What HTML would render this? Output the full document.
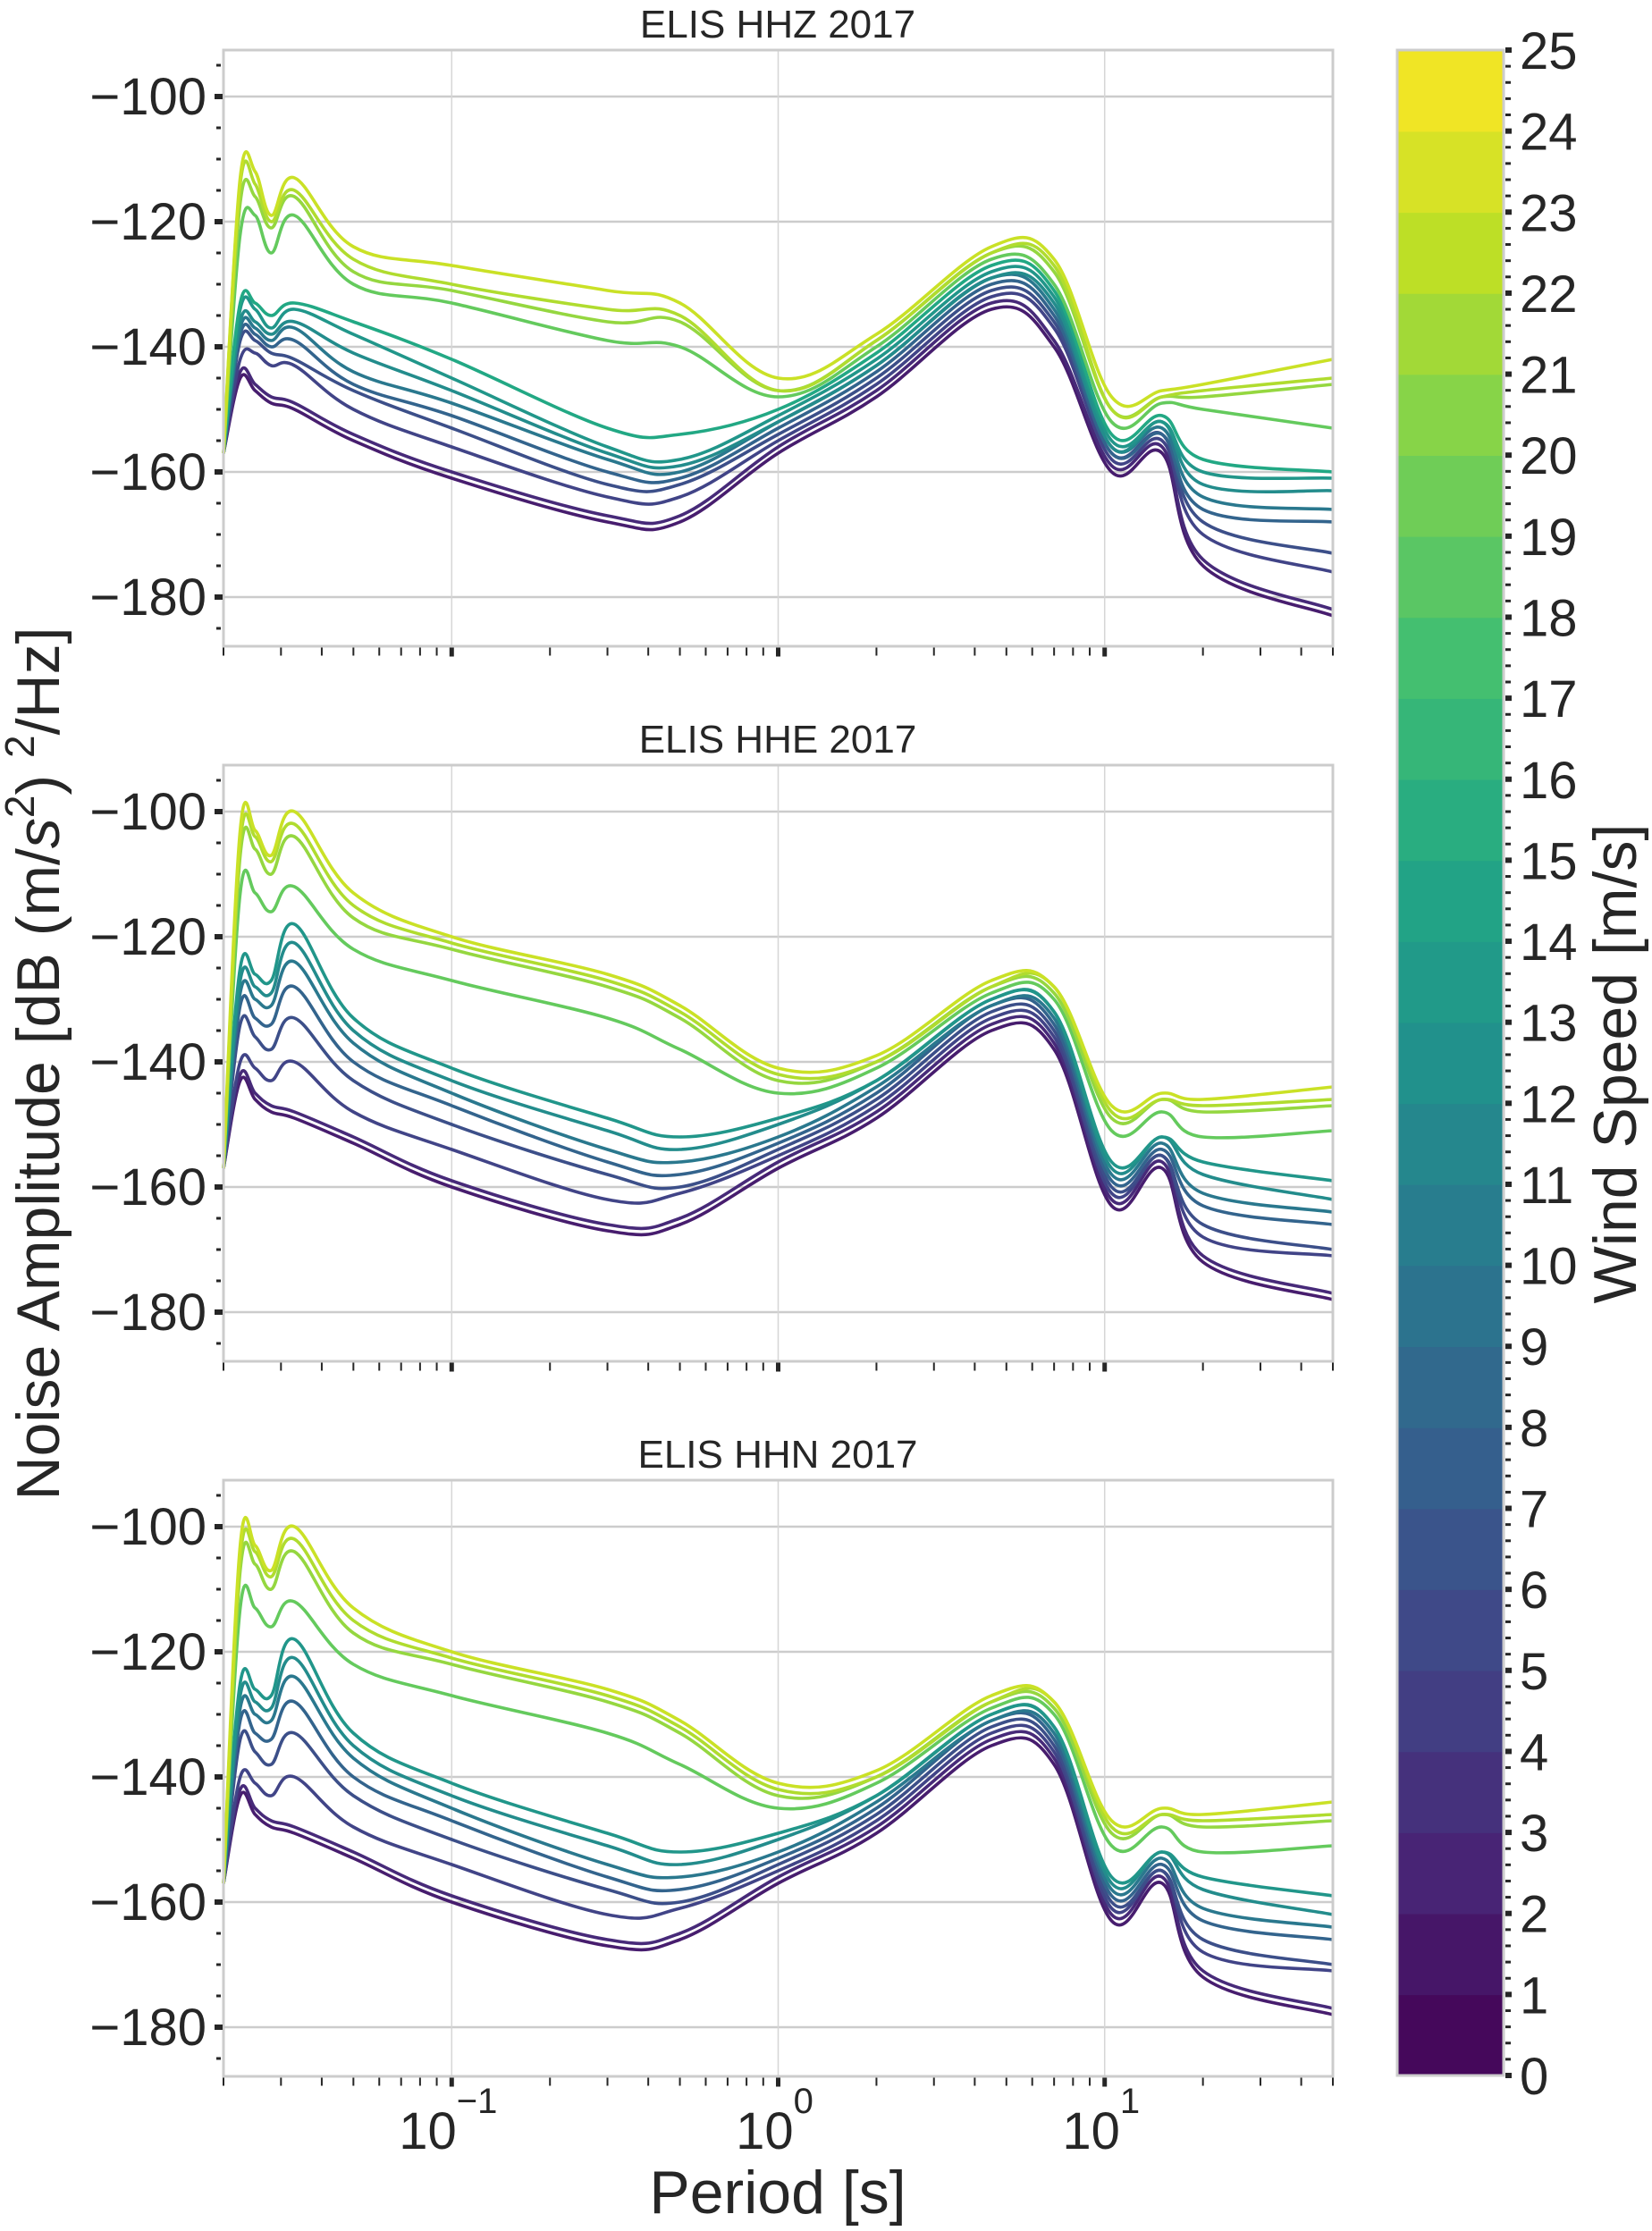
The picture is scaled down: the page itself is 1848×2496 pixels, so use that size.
<!DOCTYPE html>
<html><head><meta charset="utf-8"><style>
html,body{margin:0;padding:0;background:#fff}
svg{display:block;font-family:"Liberation Sans",Arial,sans-serif}
</style></head><body>
<svg id="chart" width="1848" height="2496" viewBox="0 0 1848 2496" xmlns="http://www.w3.org/2000/svg"></svg>
<script>
const periods=[0.02,0.0225,0.025,0.028,0.033,0.05,0.1,0.3,0.5,1,2,4.5,7,10.5,15,20,50];
const panelTitles=["ELIS HHZ 2017","ELIS HHE 2017","ELIS HHN 2017"];
const hhzWinds=[2,3,5,6,8,10,12,13,15,19,21,22,23];
const hhzValues=[
[-157,-145,-147,-149,-150,-155,-161,-168,-168,-157,-148,-134,-140,-160,-157,-175,-183],
[-157,-144,-146,-148,-149,-154,-160,-167,-167,-156,-147,-133,-139,-159,-156,-174,-182],
[-157,-142,-141,-143,-143,-150,-156,-164,-164,-155,-146,-132,-137,-158,-155,-170,-176],
[-157,-139,-139,-141,-142,-147,-153,-162,-162,-154,-145,-131,-136,-157,-154,-168,-173],
[-157,-138,-138,-140,-139,-146,-151,-160,-161,-153,-144,-130,-135,-157,-154,-166,-168],
[-157,-137,-137,-139,-137,-144,-149,-158,-160,-152,-143,-129,-134,-156,-153,-164,-166],
[-157,-136,-136,-138,-136,-141,-147,-157,-159,-152,-143,-129,-133,-156,-152,-162,-163],
[-157,-134,-134,-137,-134,-138,-145,-156,-158,-151,-142,-128,-132,-155,-152,-160,-161],
[-157,-133,-133,-135,-133,-136,-142,-153,-154,-150,-141,-127,-131,-154,-151,-158,-160],
[-157,-122,-119,-125,-119,-130,-133,-139,-140,-148,-140,-126,-130,-152,-149,-150,-153],
[-157,-117,-116,-121,-116,-128,-131,-136,-136,-147,-139,-125,-128,-150,-148,-148,-146],
[-157,-114,-114,-120,-115,-126,-130,-134,-135,-147,-139,-125,-127,-150,-148,-147,-145],
[-157,-113,-112,-119,-113,-124,-127,-131,-133,-145,-138,-124,-126,-148,-147,-146,-142]];
const horizWinds=[2,3,5,6,8,10,12,13,19,21,22,23];
const hheValues=[
[-157,-143,-146,-148,-149,-153,-160,-167,-166,-157,-149,-135,-138,-163,-157,-172,-178],
[-157,-142,-145,-147,-148,-152,-159,-166,-165,-156,-148,-134,-137,-162,-156,-171,-177],
[-157,-140,-141,-143,-140,-148,-154,-162,-161,-155,-147,-133,-136,-161,-155,-168,-171],
[-157,-134,-136,-138,-133,-143,-150,-158,-160,-154,-146,-132,-135,-160,-155,-166,-170],
[-157,-131,-133,-134,-128,-140,-147,-156,-158,-153,-145,-131,-134,-159,-154,-163,-166],
[-157,-129,-130,-131,-124,-137,-145,-154,-156,-152,-144,-131,-133,-158,-153,-161,-164],
[-157,-127,-128,-129,-121,-135,-143,-151,-154,-150,-143,-130,-132,-157,-152,-158,-162],
[-157,-125,-126,-127,-118,-133,-141,-149,-152,-149,-143,-130,-132,-156,-152,-156,-159],
[-157,-113,-113,-116,-112,-122,-127,-133,-138,-145,-141,-129,-130,-151,-148,-152,-151],
[-157,-107,-106,-110,-104,-117,-122,-128,-133,-143,-140,-128,-129,-149,-146,-148,-147],
[-157,-105,-104,-108,-102,-115,-121,-127,-132,-142,-140,-128,-128,-148,-146,-147,-146],
[-157,-103,-103,-107,-100,-113,-120,-126,-131,-141,-139,-127,-128,-147,-145,-146,-144]];
const hhnValues=[
[-157,-143,-146,-148,-149,-153,-160,-167,-166,-157,-149,-135,-138,-163,-157,-172,-178],
[-157,-142,-145,-147,-148,-152,-159,-166,-165,-156,-148,-134,-137,-162,-156,-171,-177],
[-157,-140,-141,-143,-140,-148,-154,-162,-161,-155,-147,-133,-136,-161,-155,-168,-171],
[-157,-134,-136,-138,-133,-143,-150,-158,-160,-154,-146,-132,-135,-160,-155,-166,-170],
[-157,-131,-133,-134,-128,-140,-147,-156,-158,-153,-145,-131,-134,-159,-154,-163,-166],
[-157,-129,-130,-131,-124,-137,-145,-154,-156,-152,-144,-131,-133,-158,-153,-161,-164],
[-157,-127,-128,-129,-121,-135,-143,-151,-154,-150,-143,-130,-132,-157,-152,-158,-162],
[-157,-125,-126,-127,-118,-133,-141,-149,-152,-149,-143,-130,-132,-156,-152,-156,-159],
[-157,-113,-113,-116,-112,-122,-127,-133,-138,-145,-141,-129,-130,-151,-148,-152,-151],
[-157,-107,-106,-110,-104,-117,-122,-128,-133,-143,-140,-128,-129,-149,-146,-148,-147],
[-157,-105,-104,-108,-102,-115,-121,-127,-132,-142,-140,-128,-128,-148,-146,-147,-146],
[-157,-103,-103,-107,-100,-113,-120,-126,-131,-141,-139,-127,-128,-147,-145,-146,-144]];
const yTickLabels=[-100,-120,-140,-160,-180];
const xTickExps=[-1,0,1];
const cbarTicks=[0,1,2,3,4,5,6,7,8,9,10,11,12,13,14,15,16,17,18,19,20,21,22,23,24,25];

const NS="http://www.w3.org/2000/svg";
const svg=document.getElementById('chart');
function el(tag,attrs,parent,text){const e=document.createElementNS(NS,tag);for(const k in attrs)e.setAttribute(k,attrs[k]);if(text!==undefined)e.textContent=text;(parent||svg).appendChild(e);return e;}
const L=250,R=1491,XMIN=Math.log10(0.02),XMAX=Math.log10(50);
const YTOP=-92.57,YBOT=-187.86,PH=667;
const panelTops=[56,856,1656];
function xs(p){return L+(Math.log10(p)-XMIN)/(XMAX-XMIN)*(R-L);}
function ys(v,top){return top+(YTOP-v)/(YTOP-YBOT)*PH;}
const vir=[[68,1,84],[72,36,117],[65,68,135],[53,95,141],[42,120,142],[33,145,140],[34,168,132],[68,191,112],[122,209,81],[189,223,38],[253,231,37]];
function viridis(t){t=Math.max(0,Math.min(1,t));const f=t*10,i=Math.min(9,Math.floor(f)),r=f-i;const a=vir[i],b=vir[i+1];return 'rgb('+a.map((c,k)=>Math.round(c+(b[k]-c)*r)).join(',')+')';}
function smoothPath(pts){let d='M'+pts[0][0].toFixed(1)+','+pts[0][1].toFixed(1);
  for(let i=0;i<pts.length-1;i++){const p0=pts[Math.max(0,i-1)],p1=pts[i],p2=pts[i+1],p3=pts[Math.min(pts.length-1,i+2)];
    const t=0.18;const c1=[p1[0]+(p2[0]-p0[0])*t,p1[1]+(p2[1]-p0[1])*t],c2=[p2[0]-(p3[0]-p1[0])*t,p2[1]-(p3[1]-p1[1])*t];
    c1[0]=Math.min(Math.max(c1[0],p1[0]),p2[0]);c2[0]=Math.min(Math.max(c2[0],p1[0]),p2[0]);
    d+=' C'+c1[0].toFixed(1)+','+c1[1].toFixed(1)+' '+c2[0].toFixed(1)+','+c2[1].toFixed(1)+' '+p2[0].toFixed(1)+','+p2[1].toFixed(1);}
  return d;}

const allData=[[hhzWinds,hhzValues],[horizWinds,hheValues],[horizWinds,hhnValues]];
panelTops.forEach((top,pi)=>{
  const g=el('g',{});
  
  
  const t=el('text',{x:870,y:top-14,'font-size':44,'text-anchor':'middle',fill:'#262626'},g,panelTitles[pi]);
  
  
  [-100,-120,-140,-160,-180].forEach(v=>{el('line',{x1:L,x2:R,y1:ys(v,top),y2:ys(v,top),stroke:'#cccccc','stroke-width':2.5},g);});
  xTickExps.forEach(e=>{const x=xs(Math.pow(10,e));el('line',{x1:x,x2:x,y1:top,y2:top+PH,stroke:'#d6d6d6','stroke-width':1.5},g);});
  const [winds,vals]=allData[pi];
  vals.forEach((row,ci)=>{
    const pts=row.map((v,k)=>[xs(periods[k]),ys(v,top)]);
    const pl=el('path',{d:smoothPath(pts),fill:'none',stroke:viridis(winds[ci]/25),'stroke-width':3.6,'stroke-linejoin':'round'},g);
    
    
  });
  el('rect',{x:L,y:top,width:R-L,height:PH,fill:'none',stroke:'#cccccc','stroke-width':3},g);
  for(let v=-90;v>=-185;v-=5){const y=ys(v,top);if(y<top||y>top+PH)continue;const major=v%20===0;el('line',{x1:major?240:242,x2:major?249:247,y1:y,y2:y,stroke:'#262626','stroke-width':major?6:3},g);}
  yTickLabels.forEach(v=>{const tl=el('text',{x:231,y:ys(v,top)+20,'font-size':58,'text-anchor':'end',fill:'#262626'},g,'\u2212'+Math.abs(v));
    
    });
  const by=top+PH+1.5;
  for(let e=-2;e<=1;e++)for(let m=1;m<10;m++){const p=m*Math.pow(10,e);if(p<0.0199||p>50.1)continue;const x=xs(p);const major=m===1;el('line',{x1:x,x2:x,y1:by,y2:by+(major?10:9),stroke:'#262626','stroke-width':major?5:2},g);}
  if(pi===2){xTickExps.forEach(e=>{const x=xs(Math.pow(10,e));const tx=el('text',{x:x-4,y:2404,'font-size':58,'text-anchor':'middle',fill:'#262626'},g);
      
      
      el('tspan',{},tx,'10');el('tspan',{dy:-40,'font-size':40},tx,(e<0?'\u2212':'')+Math.abs(e));});}
});
const yl=el('text',{x:0,y:0,transform:'translate(66,1190) rotate(-90)','font-size':68,'text-anchor':'middle',fill:'#262626'});


el('tspan',{},yl,'Noise Amplitude [dB (m/');el('tspan',{'font-style':'italic'},yl,'s');el('tspan',{dy:-28,'font-size':46},yl,'2');el('tspan',{dy:28},yl,')  ');el('tspan',{dy:-28,'font-size':46},yl,'2');el('tspan',{dy:28},yl,'/Hz]');
const xl=el('text',{x:870,y:2476,'font-size':68,'text-anchor':'middle',fill:'#262626'},svg,'Period [s]');


const CT=56,CB=2322,CL=1563,CR=1682;
const cb=el('g',{});


const cy=v=>CB-(v/25)*(CB-CT);
for(let k=0;k<25;k++){el('rect',{x:CL,y:cy(k+1),width:CR-CL,height:cy(k)-cy(k+1)+0.8,fill:viridis((k+0.5)/25)},cb);}
el('rect',{x:CL,y:CT,width:CR-CL,height:CB-CT,fill:'none',stroke:'#cccccc','stroke-width':3},cb);
for(let i=0;i<=125;i++){const v=i/5,y=cy(v),major=i%5===0;el('line',{x1:CR+2,x2:CR+(major?9:8),y1:y,y2:y,stroke:'#262626','stroke-width':major?6:3},cb);}
cbarTicks.forEach(v=>{const tl=el('text',{x:1700,y:cy(v)+21,'font-size':58,fill:'#262626'},cb,String(v));
  
  });
const wl=el('text',{x:0,y:0,transform:'translate(1830,1190) rotate(-90)','font-size':68,'text-anchor':'middle',fill:'#262626'},svg,'Wind Speed [m/s]');


</script>
</body></html>
